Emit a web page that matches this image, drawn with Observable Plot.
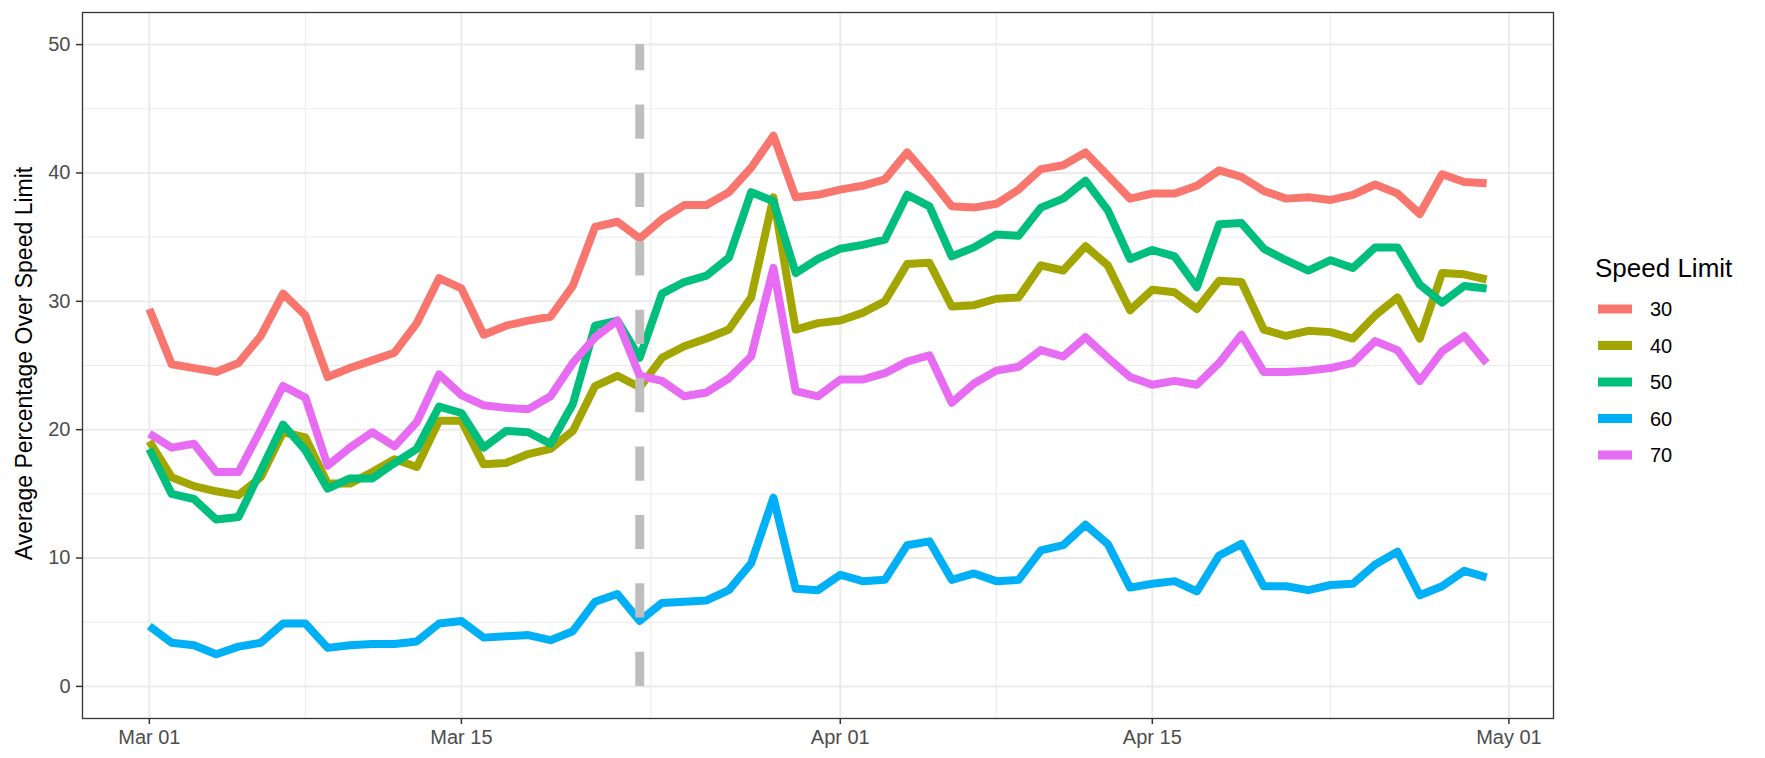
<!DOCTYPE html>
<html>
<head>
<meta charset="utf-8">
<script src="https://cdn.jsdelivr.net/npm/d3@7"></script>
<script src="https://cdn.jsdelivr.net/npm/@observablehq/plot@0.6"></script>
<style>
  html, body { margin: 0; padding: 0; background: #fff; }
  #wrap { position: relative; width: 1765px; height: 758px; }
  #legend { position: absolute; left: 1580px; top: 240px; }
</style>
</head>
<body>
<div id="wrap"></div>
<script>
// ---- data ----
const dates = [
  "2020-03-01","2020-03-02","2020-03-03","2020-03-04","2020-03-05","2020-03-06","2020-03-07","2020-03-08","2020-03-09","2020-03-10",
  "2020-03-11","2020-03-12","2020-03-13","2020-03-14","2020-03-15","2020-03-16","2020-03-17","2020-03-18","2020-03-19","2020-03-20",
  "2020-03-21","2020-03-22","2020-03-23","2020-03-24","2020-03-25","2020-03-26","2020-03-27","2020-03-28","2020-03-29","2020-03-30",
  "2020-03-31","2020-04-01","2020-04-02","2020-04-03","2020-04-04","2020-04-05","2020-04-06","2020-04-07","2020-04-08","2020-04-09",
  "2020-04-10","2020-04-11","2020-04-12","2020-04-13","2020-04-14","2020-04-15","2020-04-16","2020-04-17","2020-04-18","2020-04-19",
  "2020-04-20","2020-04-21","2020-04-22","2020-04-23","2020-04-24","2020-04-25","2020-04-26","2020-04-27","2020-04-28","2020-04-29",
  "2020-04-30"
];
const limits = ["30", "40", "50", "60", "70"];
const colors = ["#F8766D", "#A3A500", "#00BF7D", "#00B0F6", "#E76BF3"];

const s30 = [29.4,25.1,24.8,24.5,25.2,27.3,30.6,28.9,24.1,24.8,25.4,26.0,28.3,31.8,31.0,27.4,28.1,28.5,28.8,31.2,35.8,36.2,34.9,36.4,37.5,37.5,38.5,40.4,42.9,38.1,38.3,38.7,39.0,39.5,41.6,39.6,37.4,37.3,37.6,38.7,40.3,40.6,41.6,39.8,38.0,38.4,38.4,39.0,40.2,39.7,38.6,38.0,38.1,37.9,38.3,39.1,38.4,36.8,39.9,39.3,39.2];
const s40 = [19.1,16.3,15.6,15.2,14.9,16.3,19.8,19.4,15.8,15.8,16.7,17.7,17.1,20.7,20.7,17.3,17.4,18.1,18.5,19.9,23.4,24.2,23.3,25.6,26.5,27.1,27.8,30.3,38.1,27.8,28.3,28.5,29.1,30.0,32.9,33.0,29.6,29.7,30.2,30.3,32.8,32.4,34.3,32.8,29.3,30.9,30.7,29.4,31.6,31.5,27.8,27.3,27.7,27.6,27.1,28.9,30.3,27.1,32.2,32.1,31.7];
const s50 = [18.5,15.0,14.6,13.0,13.2,16.8,20.4,18.4,15.4,16.2,16.2,17.4,18.5,21.8,21.3,18.6,19.9,19.8,18.9,22.0,28.1,28.5,25.6,30.6,31.5,32.0,33.4,38.5,37.8,32.2,33.3,34.1,34.4,34.8,38.3,37.4,33.5,34.2,35.2,35.1,37.3,38.0,39.4,37.1,33.3,34.0,33.5,31.1,36.0,36.1,34.1,33.2,32.4,33.2,32.6,34.2,34.2,31.3,29.9,31.2,31.0];
const s60 = [4.7,3.4,3.2,2.5,3.1,3.4,4.9,4.9,3.0,3.2,3.3,3.3,3.5,4.9,5.1,3.8,3.9,4.0,3.6,4.3,6.6,7.2,5.1,6.5,6.6,6.7,7.5,9.6,14.7,7.6,7.5,8.7,8.2,8.3,11.0,11.3,8.3,8.8,8.2,8.3,10.6,11.0,12.6,11.1,7.7,8.0,8.2,7.4,10.2,11.1,7.8,7.8,7.5,7.9,8.0,9.5,10.5,7.1,7.8,9.0,8.5];
const s70 = [19.7,18.6,18.9,16.7,16.7,20.0,23.4,22.5,17.2,18.6,19.8,18.7,20.6,24.3,22.7,21.9,21.7,21.6,22.6,25.2,27.2,28.5,24.2,23.8,22.6,22.9,24.0,25.7,32.6,23.0,22.6,23.9,23.9,24.4,25.3,25.8,22.1,23.6,24.6,24.9,26.2,25.7,27.2,25.6,24.1,23.5,23.8,23.5,25.2,27.4,24.5,24.5,24.6,24.8,25.2,26.9,26.2,23.8,26.1,27.3,25.2];

const yMajor = [0, 10, 20, 30, 40, 50];
const yMinor = [5, 15, 25, 35, 45];
const xMajor = ["2020-03-01", "2020-03-15", "2020-04-01", "2020-04-15", "2020-05-01"];
const xMinor = ["2020-03-08", "2020-03-23T12:00", "2020-04-08", "2020-04-23"];
const xDomain = ["2020-02-27", "2020-05-03"];
const yDomain = [-2.5, 52.5];
const eventDate = ["2020-03-23"];
const eventRange = [0, 50];
const yTitle = "Average Percentage Over Speed Limit";
const legendTitle = "Speed Limit";

// ---- build ----
const toDate = s => new Date(s.length > 10 ? s + "Z" : s + "T00:00Z");
const seriesList = [s30, s40, s50, s60, s70];
const rows = [];
limits.forEach((lim, k) => {
  seriesList[k].forEach((v, i) => rows.push({date: toDate(dates[i]), value: v, limit: lim}));
});
const events = eventDate.map(d => ({date: toDate(d), y1: eventRange[0], y2: eventRange[1]}));

const font = "'Liberation Sans', Arial, Helvetica, sans-serif";

const chart = Plot.plot({
  width: 1765,
  height: 758,
  marginLeft: 82,
  marginRight: 212,
  marginTop: 12,
  marginBottom: 40,
  style: {fontFamily: font, background: "#fff", overflow: "visible"},
  x: {type: "utc", domain: xDomain.map(toDate)},
  y: {domain: yDomain},
  color: {domain: limits, range: colors},
  marks: [
    Plot.gridY(yMinor, {stroke: "#EBEBEB", strokeOpacity: 1, strokeWidth: 1}),
    Plot.gridX(xMinor.map(toDate), {stroke: "#EBEBEB", strokeOpacity: 1, strokeWidth: 1}),
    Plot.gridY(yMajor, {stroke: "#EBEBEB", strokeOpacity: 1, strokeWidth: 2}),
    Plot.gridX(xMajor.map(toDate), {stroke: "#EBEBEB", strokeOpacity: 1, strokeWidth: 2}),
    Plot.line(rows, {x: "date", y: "value", z: "limit", stroke: "limit", strokeWidth: 8,
      strokeLinecap: "butt", strokeLinejoin: "round"}),
    Plot.ruleX(events, {x: "date", y1: "y1", y2: "y2", stroke: "#BEBEBE", strokeWidth: 9,
      strokeDasharray: "34.2,34.2"}),
    Plot.frame({stroke: "#333333", strokeWidth: 1.3}),
    Plot.axisY(yMajor, {tickSize: 6, tickPadding: 6, fontSize: 20, stroke: "#333333", strokeWidth: 1.5,
      fill: "#4D4D4D", label: null}),
    Plot.axisX(xMajor.map(toDate), {tickSize: 6, tickPadding: 5, fontSize: 20, stroke: "#333333", strokeWidth: 1.5,
      fill: "#4D4D4D", tickFormat: d3.utcFormat("%b %d"), label: null}),
    Plot.text([yTitle], {frameAnchor: "left", dx: -58, dy: -2, rotate: -90, textAnchor: "middle",
      lineAnchor: "middle", fontSize: 23, fill: "#000"})
  ]
});
document.getElementById("wrap").appendChild(chart);

// ---- legend ----
const lg = d3.select("#wrap").append("svg")
  .attr("id", "legend")
  .attr("width", 185).attr("height", 240)
  .style("font-family", font);
lg.append("text").attr("x", 15).attr("y", 37).attr("font-size", 26).attr("fill", "#000").text(legendTitle);
limits.forEach((lim, i) => {
  const cy = 69 + 36.5 * i;
  lg.append("line").attr("x1", 18).attr("x2", 52).attr("y1", cy).attr("y2", cy)
    .attr("stroke", colors[i]).attr("stroke-width", 9);
  lg.append("text").attr("x", 70).attr("y", cy).attr("dy", "0.35em")
    .attr("font-size", 20).attr("fill", "#000").text(lim);
});
</script>
</body>
</html>
